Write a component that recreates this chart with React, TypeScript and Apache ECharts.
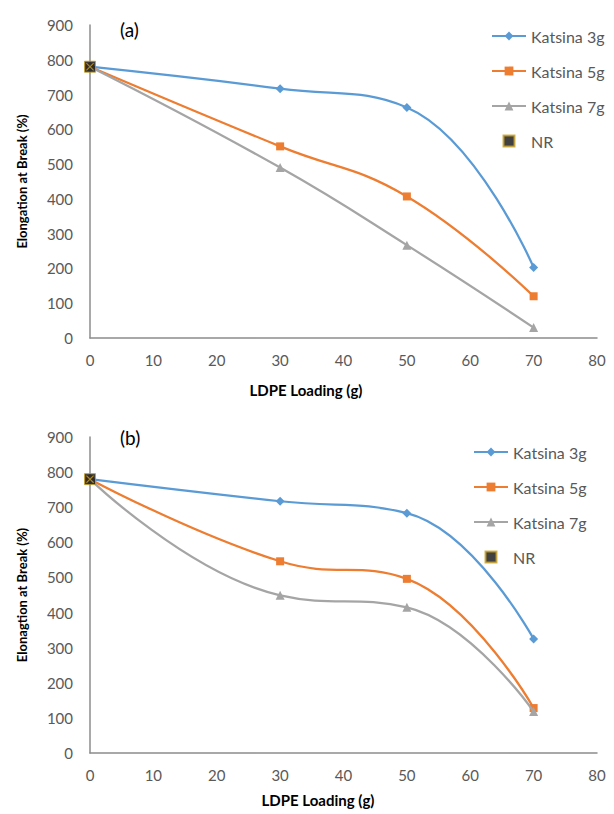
import React, { useEffect, useRef } from "react";
import * as echarts from "echarts";

const xValues = [0, 30, 50, 70];
const seriesNames = ["Katsina 3g", "Katsina 5g", "Katsina 7g"];
const topK3 = [780, 717, 663, 203];
const topK5 = [780, 551, 407, 120];
const topK7 = [780, 490, 267, 30];
const botK3 = [780, 717, 683, 325];
const botK5 = [780, 546, 496, 128];
const botK7 = [780, 449, 415, 118];
const nrX = [0];
const nrTop = [780];
const nrBot = [780];
const colors = ["#5B9BD5", "#ED7D31", "#A5A5A5"];
const symbols = ["diamond", "rect", "triangle"];
const symbolSizes = [9, 8, 9];
const yTitles = ["Elongation at Break (%)", "Elonagtion at Break (%)"];
const xTitle = "LDPE Loading (g)";
const panelLabels = ["(a)", "(b)"];

const FONT = "Lato, 'Open Sans', sans-serif";
const AXIS_COLOR = "#8C8C8C";
const TEXT_COLOR = "#595959";
const SQUARE = "path://M0,0H10V10H0Z";
const XMARK = "path://M1,0L5,4L9,0L10,1L6,5L10,9L9,10L5,6L1,10L0,9L4,5L0,1Z";

export default function App() {
  const ref = useRef<HTMLDivElement>(null);
  useEffect(() => {
    document.body.style.margin = "0";
    const chart = echarts.init(ref.current!, null, { renderer: "svg" });
    const grids = [
      { left: 90, top: 25, width: 507, height: 313 },
      { left: 90, top: 437, width: 507, height: 316 },
    ];
    const xAxes = grids.map((_, i) => ({
      type: "value",
      gridIndex: i,
      min: 0,
      max: 80,
      interval: 10,
      axisLine: { show: true, lineStyle: { color: AXIS_COLOR, width: 1.5 } },
      axisTick: { show: false },
      splitLine: { show: false },
      axisLabel: { color: TEXT_COLOR, fontSize: 15, fontFamily: FONT, margin: 14 },
    }));
    const yAxes = grids.map((_, i) => ({
      type: "value",
      gridIndex: i,
      min: 0,
      max: 900,
      interval: 100,
      name: yTitles[i],
      nameLocation: "middle",
      nameGap: 62,
      nameTextStyle: { color: "#000", fontSize: 13, fontWeight: "bold", fontFamily: FONT },
      axisLine: { show: true, lineStyle: { color: AXIS_COLOR, width: 1.5 } },
      axisTick: { show: false },
      splitLine: { show: false },
      axisLabel: { color: TEXT_COLOR, fontSize: 15, fontFamily: FONT, margin: 17 },
    }));
    const panels = [
      [topK3, topK5, topK7, nrTop],
      [botK3, botK5, botK7, nrBot],
    ];
    const series: any[] = [];
    panels.forEach((p, gi) => {
      for (let k = 0; k < 3; k++) {
        series.push({
          type: "line",
          name: seriesNames[k],
          xAxisIndex: gi,
          yAxisIndex: gi,
          data: xValues.map((x, j) => [x, p[k][j]]),
          smooth: 0.45,
          symbol: symbols[k],
          symbolSize: symbolSizes[k],
          lineStyle: { color: colors[k], width: 2.25 },
          itemStyle: { color: colors[k] },
          z: 3 + k,
        });
      }
      series.push({
        type: "scatter",
        name: "NR",
        xAxisIndex: gi,
        yAxisIndex: gi,
        data: nrX.map((x, j) => [x, p[3][j]]),
        symbol: SQUARE,
        symbolKeepAspect: true,
        symbolSize: 11,
        itemStyle: { color: "#111", borderColor: "#C9A227", borderWidth: 1 },
        z: 10,
      });
      series.push({
        type: "scatter",
        name: "NRmark",
        xAxisIndex: gi,
        yAxisIndex: gi,
        data: nrX.map((x, j) => [x, p[3][j]]),
        symbol: XMARK,
        symbolSize: 8,
        itemStyle: { color: "#C9A227" },
        z: 11,
        silent: true,
      });
    });
    const legends = [
      { left: 486, top: 23 },
      { left: 468, top: 439 },
    ].map((pos) => ({
      ...pos,
      orient: "vertical",
      data: [...seriesNames, { name: "NR", icon: SQUARE }],
      itemWidth: 34,
      itemHeight: 11,
      itemGap: 19,
      textStyle: { color: TEXT_COLOR, fontSize: 16, fontFamily: FONT },
    }));
    chart.setOption({
      animation: false,
      backgroundColor: "#fff",
      grid: grids,
      xAxis: xAxes,
      yAxis: yAxes,
      legend: legends,
      series,
      graphic: [
        { type: "text", left: 120, top: 20, style: { text: panelLabels[0], fontSize: 19, fill: "#000", fontFamily: FONT } },
        { type: "text", left: 120, top: 428, style: { text: panelLabels[1], fontSize: 19, fill: "#000", fontFamily: FONT } },
        { type: "text", x: 306, y: 390, style: { text: xTitle, fontSize: 15, fontWeight: "bold", fill: "#000", fontFamily: FONT, align: "center", verticalAlign: "middle" } },
        { type: "text", x: 318, y: 800, style: { text: xTitle, fontSize: 15, fontWeight: "bold", fill: "#000", fontFamily: FONT, align: "center", verticalAlign: "middle" } },
      ],
    });
    return () => chart.dispose();
  }, []);
  return <div ref={ref} style={{ width: 614, height: 814 }} />;
}
